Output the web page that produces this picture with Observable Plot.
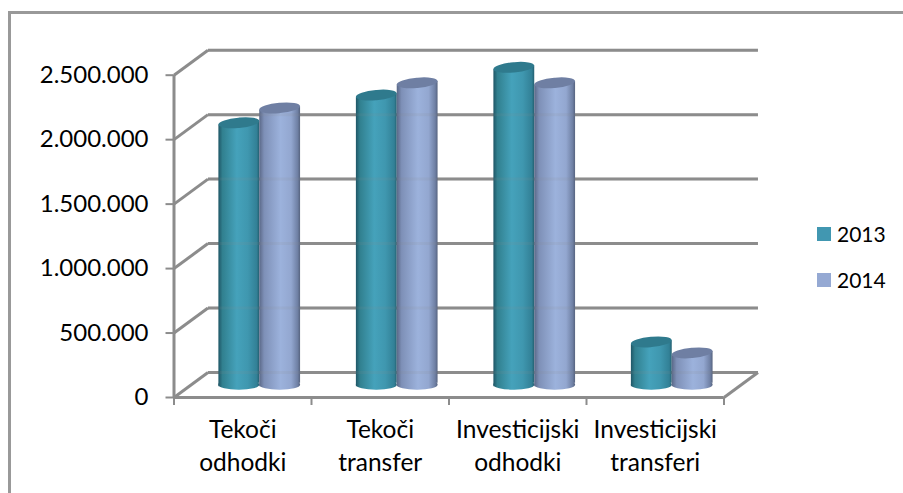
<!DOCTYPE html>
<html><head><meta charset="utf-8">
<script src="https://cdn.jsdelivr.net/npm/d3@7"></script>
<script src="https://cdn.jsdelivr.net/npm/@observablehq/plot@0.6"></script>
<style>
html,body{margin:0;padding:0;background:#fff;overflow:hidden}
#wrap{position:relative;width:903px;height:493px;font-family:Lato,sans-serif}
#frame{position:absolute;left:8px;top:11px;right:0;bottom:0;border-left:3px solid #999;border-top:3px solid #999}
#chart{position:absolute;left:0;top:0}
.lg{position:absolute;left:817px;font-size:21px;color:#000;line-height:26px;height:26px;display:flex;align-items:center}
.lg i{display:inline-block;width:14px;height:14px;margin-right:6px}
</style></head><body>
<div id="wrap"><div id="frame"></div><div id="chart"></div></div>
<script>
const categories = ["Tekoči\nodhodki", "Tekoči\ntransfer", "Investicijski\nodhodki", "Investicijski\ntransferi"];
const years = ["2013", "2014"];
const values2013 = [2030000, 2245000, 2460000, 330000];
const values2014 = [2145000, 2340000, 2340000, 245000];
const yTicks = [0, 500000, 1000000, 1500000, 2000000, 2500000];
const legendColors = ["#4197b1", "#95a9d3"];

// 3D projection of the chart box, in data units
const depthX = 0.247;      // back wall shift along the category axis
const depthY = 194000;     // back wall shift along the value axis
const barW = 0.297;        // cylinder diameter in category units
const capY = 40000;        // half-height of a cylinder end in value units

const rows = [];
categories.forEach((c, i) => {
  rows.push({i, k: 0, v: values2013[i]});
  rows.push({i, k: 1, v: values2014[i]});
});
rows.forEach(d => {
  const mid = d.i + 0.5 + depthX / 2;
  d.x1 = mid + (d.k - 1) * barW;
  d.x2 = d.x1 + barW;
  d.base = depthY / 2;
  d.top = d.v + depthY / 2;
});
const gridColor = "#8c8c8c";

const tilt = (deg) => (index, scales, values, dims, context, next) => {
  const g = next(index, scales, values, dims, context);
  d3.select(g).selectAll("rect")
    .style("transform-box", "fill-box")
    .style("transform-origin", "center")
    .style("transform", `skewY(${deg}deg)`);
  return g;
};

const defs = () => {
  const d = d3.create("svg:defs");
  const grad = (id, stops) => {
    const g = d.append("linearGradient").attr("id", id).attr("x1", 0).attr("x2", 1).attr("y1", 0).attr("y2", 0);
    stops.forEach(([o, c]) => g.append("stop").attr("offset", o).attr("stop-color", c));
  };
  grad("cyl0", [[0, "#1f5666"], [0.1, "#31808f"], [0.45, "#45a2bb"], [0.72, "#3f97af"], [0.94, "#328096"], [1, "#235f70"]]);
  grad("cyl1", [[0, "#5a6887"], [0.12, "#7e90b7"], [0.52, "#9cb2dc"], [0.78, "#93a7d0"], [0.94, "#6f80a4"], [1, "#56637f"]]);
  return d.node();
};

const chart = Plot.plot({
  width: 903, height: 493, margin: 0,
  style: {background: "transparent", fontFamily: "Lato, sans-serif", overflow: "visible"},
  x: {type: "linear", domain: [0, 4], range: [173.5, 723.5], axis: null},
  y: {type: "linear", domain: [0, 2500000], range: [397, 74.7], axis: null},
  marks: [
    defs,
    // back wall gridlines and side wall diagonals
    Plot.link(yTicks, {x1: () => depthX, x2: () => 4 + depthX, y1: d => d + depthY, y2: d => d + depthY, stroke: gridColor, strokeWidth: 3}),
    Plot.link(yTicks, {x1: () => 0, x2: () => depthX, y1: d => d, y2: d => d + depthY, stroke: gridColor, strokeWidth: 3}),
    // floor right edge
    Plot.link([0], {x1: () => 4, x2: () => 4 + depthX, y1: () => 0, y2: () => depthY, stroke: gridColor, strokeWidth: 3}),
    // front axes
    Plot.ruleX([0], {y1: () => 0, y2: () => 2500000, stroke: gridColor, strokeWidth: 3}),
    Plot.ruleY([0], {x1: () => 0, x2: () => 4, stroke: gridColor, strokeWidth: 3}),
    Plot.axisX([0, 1, 2, 3, 4], {anchor: "bottom", y: () => 0, label: null, tickFormat: () => "", tickSize: 8, stroke: gridColor, strokeWidth: 2}),
    Plot.axisY(yTicks, {anchor: "left", x: () => 0, label: null, tickSize: 8, stroke: gridColor, strokeWidth: 2, tickPadding: 17.5,
      tickFormat: d => d3.format(",")(d).replace(/,/g, "."), fontSize: 24, fill: "#000"}),
    // cylinders: bottom end, body, top end
    Plot.rect(rows, {x1: "x1", x2: "x2", y1: d => d.base - capY, y2: d => d.base + capY, rx: 20, ry: 5, fill: d => `url(#cyl${d.k})`}),
    Plot.rect(rows, {x1: "x1", x2: "x2", y1: "base", y2: "top", fill: d => `url(#cyl${d.k})`, render: tilt(-5)}),
    Plot.rect(rows, {x1: "x1", x2: "x2", y1: d => d.top - capY, y2: d => d.top + capY, rx: 20, ry: 5.2, fill: d => d.k ? "#6f7fa3" : "#2f7a8d", render: tilt(-5)}),
    // gridlines faintly showing through the cylinders
    Plot.link(yTicks, {x1: () => depthX, x2: () => 4 + depthX, y1: d => d + depthY, y2: d => d + depthY, stroke: "#8c8c8c", strokeOpacity: 0.12, strokeWidth: 3}),
    // labels
    Plot.text(categories, {x: (d, i) => i + 0.5, y: () => 0, text: d => d, dy: 17, lineHeight: 1.34, lineAnchor: "top", fontSize: 24.5, fill: "#000"})
  ]
});
document.getElementById("chart").appendChild(chart);

const wrap = document.getElementById("wrap");
years.forEach((y, i) => {
  const el = document.createElement("div");
  el.className = "lg";
  el.style.top = (221 + i * 46) + "px";
  el.innerHTML = `<i style="background:${legendColors[i]}"></i>${y}`;
  wrap.appendChild(el);
});
</script>
</body></html>
